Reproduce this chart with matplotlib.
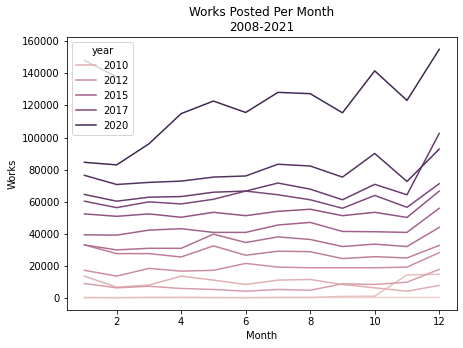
import matplotlib
matplotlib.use("Agg")
import matplotlib.pyplot as plt
import seaborn as sns
import pandas as pd

months = list(range(1, 13))

# works posted per month
works_2008 = [500, 400, 500, 600, 500, 400, 500, 500, 500, 500, 500, 500]
works_2009 = [400, 400, 500, 500, 400, 400, 500, 500, 1200, 1300, 14600, 14900]
works_2010 = [13800, 6900, 8200, 13800, 11300, 8600, 11300, 11700, 8600, 6500, 4400, 8000]
works_2011 = [9200, 6500, 7500, 6100, 5500, 4400, 5500, 5000, 9000, 8600, 10000, 18000]
works_2012 = [17400, 13800, 18600, 16900, 17400, 21700, 19400, 19000, 19000, 19000, 19400, 28400]
works_2013 = [33200, 27800, 27800, 25700, 32600, 26800, 29300, 29000, 24700, 25900, 25100, 32900]
works_2014 = [33200, 30100, 31100, 31100, 39900, 34700, 38200, 36600, 32200, 33700, 32200, 44100]
works_2015 = [39500, 39300, 42400, 43300, 41000, 41000, 45600, 47200, 41600, 41400, 41000, 56000]
works_2016 = [52500, 51000, 52500, 50400, 53500, 51400, 54100, 55400, 51400, 53500, 50300, 66700]
works_2017 = [60400, 56400, 60000, 58700, 61600, 66700, 64400, 61300, 56000, 64000, 56600, 71300]
works_2018 = [64600, 60400, 62900, 63300, 66000, 66700, 71700, 67900, 61300, 70900, 64400, 102600]
works_2019 = [76500, 70800, 72100, 72900, 75400, 76100, 83400, 82300, 75400, 90100, 72700, 92800]
works_2020 = [84600, 83000, 96100, 114900, 122700, 115600, 128100, 127300, 115400, 141500, 123100, 154900]
works_2021 = [148000, 137800]

series = {
    2008: works_2008, 2009: works_2009, 2010: works_2010, 2011: works_2011,
    2012: works_2012, 2013: works_2013, 2014: works_2014, 2015: works_2015,
    2016: works_2016, 2017: works_2017, 2018: works_2018, 2019: works_2019,
    2020: works_2020, 2021: works_2021,
}

rows = []
for year, values in series.items():
    for month, works in zip(months, values):
        rows.append({"year": year, "month": month, "works": works})
df = pd.DataFrame(rows)

fig, ax = plt.subplots(figsize=(463 / 72, 348 / 72), dpi=72)
fig.subplots_adjust(left=0.144, right=0.987, top=0.894, bottom=0.109)

sns.lineplot(data=df, x="month", y="works", hue="year", ax=ax)

ax.set_title("Works Posted Per Month\n2008-2021")
ax.set_xlabel("Month")
ax.set_ylabel("Works")

fig.savefig("out.png", dpi=72)
